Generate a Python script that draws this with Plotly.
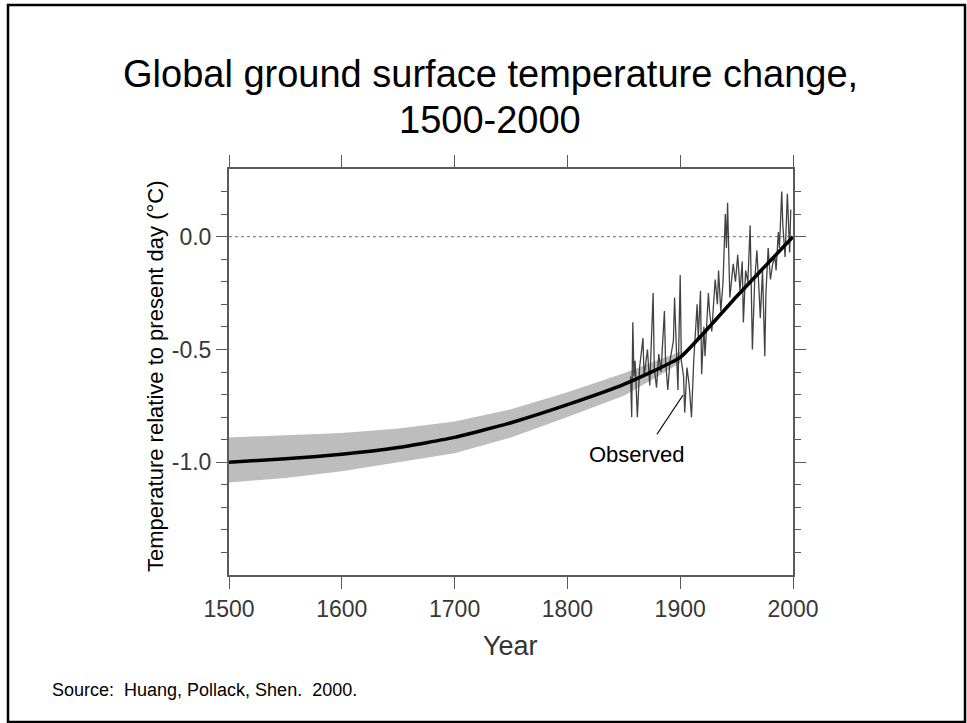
import numpy as np
import plotly.graph_objects as go

# Borehole reconstruction (central estimate)
recon_years = [1500, 1550, 1600, 1650, 1700, 1750, 1800, 1850, 1900, 1950, 2000]
recon_temp = [-1.00, -0.985, -0.965, -0.935, -0.89, -0.825, -0.745, -0.655, -0.535, -0.265, 0.00]

# Uncertainty envelope of the reconstruction
band_years = [1500, 1550, 1600, 1650, 1700, 1750, 1800, 1850, 1880, 1900]
band_upper = [-0.89, -0.88, -0.87, -0.85, -0.82, -0.765, -0.69, -0.605, -0.55, -0.51]
band_lower = [-1.09, -1.07, -1.04, -1.00, -0.96, -0.89, -0.80, -0.705, -0.62, -0.56]

# Instrumental (observed) record
obs_years = [1856, 1857, 1858, 1859, 1860, 1862, 1864, 1867, 1868, 1870, 1871, 1873,
             1876, 1877, 1879, 1881, 1883, 1886, 1887, 1889, 1891, 1894, 1895, 1897,
             1898, 1900, 1901, 1903, 1904, 1906, 1908, 1910, 1912, 1915, 1916, 1918,
             1919, 1921, 1922, 1925, 1926, 1928, 1931, 1933, 1934, 1936, 1938, 1940,
             1941, 1942, 1944, 1947, 1949, 1951, 1953, 1955, 1956, 1958, 1960, 1962,
             1964, 1966, 1968, 1970, 1971, 1973, 1975, 1976, 1978, 1980, 1982, 1984,
             1985, 1987, 1988, 1990, 1991, 1993, 1995, 1997, 1998]
obs_temp = [-0.62, -0.80, -0.38, -0.62, -0.55, -0.80, -0.58, -0.45, -0.62, -0.55, -0.50, -0.66,
            -0.25, -0.58, -0.67, -0.52, -0.60, -0.33, -0.55, -0.68, -0.55, -0.46, -0.27, -0.55,
            -0.68, -0.17, -0.55, -0.62, -0.78, -0.58, -0.66, -0.80, -0.55, -0.30, -0.45, -0.24,
            -0.61, -0.40, -0.53, -0.25, -0.33, -0.42, -0.19, -0.30, -0.15, -0.33, -0.20, 0.10,
            -0.05, 0.15, -0.27, -0.12, -0.20, -0.08, -0.24, -0.11, -0.38, -0.15, -0.20, 0.05,
            -0.50, -0.20, -0.06, -0.25, -0.36, -0.15, -0.53, -0.25, -0.05, -0.19, -0.12, -0.09,
            -0.15, 0.02, -0.05, 0.20, 0.05, -0.09, 0.19, -0.07, 0.12]

x_ticks = [1500, 1600, 1700, 1800, 1900, 2000]
y_ticks = [0.0, -0.5, -1.0]
y_ticktext = ["0.0", "-0.5", "-1.0"]

FONT = "Liberation Sans, Arial, Helvetica, sans-serif"
AXIS_COLOR = "#5a5a5a"
TICK_FONT_COLOR = "#383838"

fig = go.Figure()

# shaded envelope
fig.add_trace(go.Scatter(
    x=band_years + band_years[::-1],
    y=band_upper + band_lower[::-1],
    fill="toself", fillcolor="#bdbdbd",
    line=dict(width=0), mode="lines", hoverinfo="skip", showlegend=False,
))

# observed record
fig.add_trace(go.Scatter(
    x=obs_years, y=obs_temp, mode="lines",
    line=dict(color="rgba(45,45,45,0.9)", width=1.3),
    showlegend=False,
))

# reconstruction
fig.add_trace(go.Scatter(
    x=recon_years, y=recon_temp, mode="lines",
    line=dict(color="#000000", width=3.5, shape="spline", smoothing=0.4),
    showlegend=False,
))

# dotted present-day reference line
fig.add_shape(type="line", xref="x", yref="y", x0=1500, x1=2000, y0=0, y1=0,
              line=dict(color="#8a8a8a", width=1.2, dash="dot"), layer="below")

# pointer for the "Observed" label
fig.add_shape(type="line", xref="x", yref="y", x0=1879.4, y0=-0.876, x1=1902.4, y1=-0.703,
              line=dict(color="#000000", width=1.2))
fig.add_annotation(x=1861, y=-0.965, xref="x", yref="y", text="Observed",
                   xanchor="center", yanchor="middle",
                   showarrow=False, font=dict(family=FONT, size=22, color="#000000"))

minor_vals = [round(v, 1) for v in np.arange(-1.5, 0.31, 0.1) if round(v, 1) not in (-1.5, -1.0, -0.5, 0.0, 0.3)]

fig.update_xaxes(
    range=[1500, 2000], tickvals=x_ticks, ticktext=[str(v) for v in x_ticks],
    showline=True, linecolor=AXIS_COLOR, linewidth=2, mirror="allticks",
    ticks="outside", ticklen=12, tickwidth=1.3, tickcolor=AXIS_COLOR,
    showgrid=False, zeroline=False,
    tickfont=dict(family=FONT, size=23, color=TICK_FONT_COLOR),
)
fig.update_yaxes(
    range=[-1.5, 0.3], tickvals=y_ticks, ticktext=y_ticktext,
    showline=True, linecolor=AXIS_COLOR, linewidth=2, mirror="allticks",
    ticks="outside", ticklen=11, tickwidth=1.3, tickcolor=AXIS_COLOR,
    minor=dict(tickvals=minor_vals, ticks="outside", ticklen=6, tickwidth=1.3,
               tickcolor=AXIS_COLOR, showgrid=False),
    showgrid=False, zeroline=False,
    tickfont=dict(family=FONT, size=23, color=TICK_FONT_COLOR),
)

# layout geometry: plot area spans pixels 229..793 horizontally, 169..575 vertically
L, R, T, B = 229, 793, 169, 575
W, H = 967, 723

def px_x(p):
    return (p - L) / (R - L)

def px_y(p):
    return (B - p) / (B - T)

def page_text(x, y, text, size, color="#000000", xanchor="center", angle=0):
    fig.add_annotation(x=px_x(x), y=px_y(y), xref="paper", yref="paper",
                       xanchor=xanchor, yanchor="middle", textangle=angle,
                       text=text, showarrow=False,
                       font=dict(family=FONT, size=size, color=color))

page_text(490, 74, "Global ground surface temperature change,", 38)
page_text(490, 120, "1500-2000", 38)
page_text(510, 646, "Year", 27, color="#333333")
page_text(155, 376, "Temperature relative to present day (°C)", 22, angle=-90)
page_text(50, 690, "Source:\u00a0\u00a0Huang, Pollack, Shen.\u00a0\u00a02000.", 18, xanchor="left")

# page border
fig.add_shape(type="rect", xref="paper", yref="paper",
              x0=px_x(8), x1=px_x(965), y0=px_y(722), y1=px_y(5),
              line=dict(color="#000000", width=2.5))

fig.update_layout(
    width=W, height=H,
    margin=dict(l=L, r=W - R, t=T, b=H - B),
    paper_bgcolor="white", plot_bgcolor="white",
    showlegend=False,
)

fig.write_html("out.html")
